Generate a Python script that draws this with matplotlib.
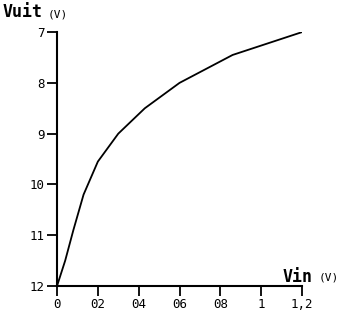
import matplotlib
matplotlib.use("Agg")
import matplotlib.pyplot as plt

# values
vin = [0, 0.04, 0.08, 0.13, 0.2, 0.3, 0.43, 0.6, 0.86, 1.2]
vuit = [12, 11.5, 10.9, 10.2, 9.55, 9.0, 8.5, 8.0, 7.45, 7.0]

xticks = [0, 0.2, 0.4, 0.6, 0.8, 1.0, 1.2]
xtick_labels = ["0", "02", "04", "06", "08", "1", "1,2"]
yticks = [7, 8, 9, 10, 11, 12]
ytick_labels = ["7", "8", "9", "10", "11", "12"]

plt.rcParams["font.family"] = "DejaVu Sans Mono"

fig = plt.figure(figsize=(3.52, 3.23), dpi=100)
ax = fig.add_axes([0.162, 0.1146, 0.696, 0.786])

ax.plot(vin, vuit, color="black", linewidth=1.3)

ax.set_xlim(0, 1.2)
ax.set_ylim(12, 7)
ax.set_xticks(xticks)
ax.set_xticklabels(xtick_labels, fontsize=9)
ax.set_yticks(yticks)
ax.set_yticklabels(ytick_labels, fontsize=9)
ax.tick_params(direction="out", length=7, width=1.3, pad=2)

for s in ["top", "right"]:
    ax.spines[s].set_visible(False)
for s in ["left", "bottom"]:
    ax.spines[s].set_linewidth(1.5)

fig.text(0.008, 0.947, "Vuit", fontsize=12, fontweight="bold", ha="left", va="baseline")
fig.text(0.135, 0.972, "(V)", fontsize=8, ha="left", va="top")
fig.text(0.804, 0.127, "Vin", fontsize=12, fontweight="bold", ha="left", va="baseline")
fig.text(0.905, 0.155, "(V)", fontsize=8, ha="left", va="top")

fig.savefig("out.png", dpi=100)
